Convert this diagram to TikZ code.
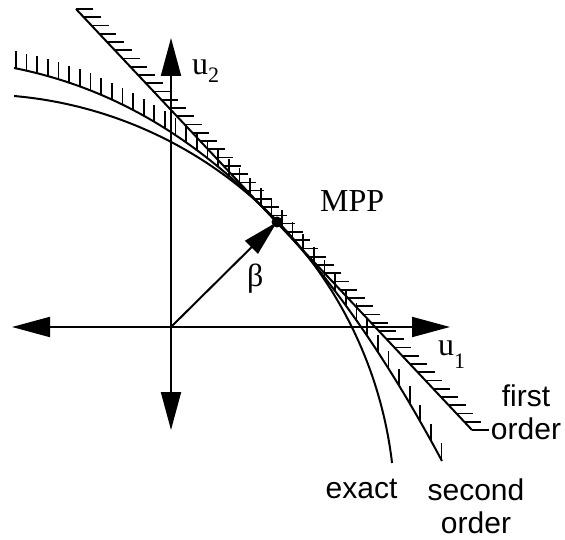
\documentclass[tikz,border=0pt]{standalone}
\usepackage{fontspec}
\setmainfont{Liberation Serif}
\newfontfamily\labelsans{Liberation Sans}
\usetikzlibrary{arrows.meta}
\begin{document}
\begin{tikzpicture}[x=1pt,y=-1pt,
  declare function={sord(\t)=222+106*((\t-277)/100)+21.42*((\t-277)/100)^2+1.286*((\t-277)/100)^3;},
  axisline/.style={line width=2pt},
  bcurve/.style={line width=2pt},
  hatchline/.style={line width=1.7pt},
  bigtips/.style={{Triangle[length=38pt,width=20pt]}-{Triangle[length=38pt,width=20pt]}},
  betatip/.style={-{Triangle[length=36pt,width=18pt]}},
  seriflabel/.style={font=\fontsize{32}{38}\selectfont, inner sep=0pt},
  sanslabel/.style={font=\labelsans\fontsize{30}{33}\selectfont, inner sep=0pt, align=center}]
\fill[white] (0,0) rectangle (565,540);
\useasboundingbox (0,0) rectangle (565,540);
% named points
\coordinate (O) at (171,327);
\coordinate (xL) at (12,327);
\coordinate (xR) at (450,327);
\coordinate (yT) at (171,38);
\coordinate (yB) at (171,430);
\coordinate (MPP) at (277,222);
\coordinate (F1) at (76,9);
\coordinate (F2) at (472,430);
% axes
\draw[axisline, bigtips] (xL) -- (xR);
\draw[axisline, bigtips] (yB) -- (yT);
% exact limit state
\draw[bcurve] plot[domain=85.0:6.69, samples=140, variable=\a]
  ({-22.3+417.2*cos(\a)}, {511.6-417.2*sin(\a)});
% second order
\draw[bcurve] plot[domain=14:442, samples=150, variable=\t] (\t, {sord(\t)});
\foreach \k in {0,...,40} {
  \pgfmathsetmacro\xx{16+\k*10.64}
  \pgfmathsetmacro\yy{sord(\xx)}
  \draw[hatchline] (\xx,\yy) -- ++(0,-17);
}
% first order
\draw[bcurve] (F1) -- (F2);
\foreach \k in {0,...,51} {
  \pgfmathsetmacro\yy{9+\k*8.255}
  \pgfmathsetmacro\xx{76+\k*7.765}
  \draw[hatchline] (\xx,\yy) -- ++(17,0);
}
% beta vector and MPP
\draw[axisline, betatip] (O) -- (MPP);
\fill (MPP) circle[radius=5.5pt];
% labels
\node[seriflabel, anchor=base west] (u2) at (192,75) {u\raisebox{-8pt}{\fontsize{22}{22}\selectfont 2}};
\node[seriflabel, anchor=base west] (u1) at (438,355) {u\raisebox{-13pt}{\fontsize{22}{22}\selectfont 1}};
\node[seriflabel, anchor=base west] (mpplabel) at (320,212) {MPP};
\node[seriflabel, anchor=base west] (beta) at (247,286) {β};
\node[sanslabel, anchor=base] (exact) at (361.5,498) {exact};
\node[sanslabel, anchor=south] (first) at (526,440) {first\\order};
\node[sanslabel, anchor=south] (second) at (476,534) {second\\order};
\end{tikzpicture}
\end{document}
